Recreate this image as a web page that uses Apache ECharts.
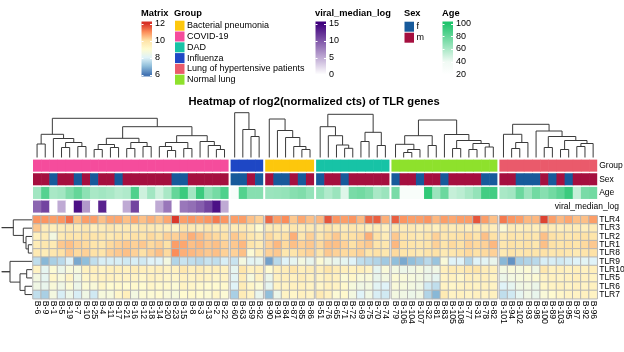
<!DOCTYPE html>
<html>
<head>
<meta charset="utf-8">
<script src="https://cdn.jsdelivr.net/npm/echarts/dist/echarts.min.js"></script>
<style>html,body{margin:0;padding:0;background:#fff}#chart{width:624px;height:352px}</style>
</head>
<body>
<div id="chart"></div>
<script>
var FONT = '"Liberation Sans", Arial, Helvetica, sans-serif';

// ---- shared data ----
var genes = ['TLR4', 'TLR3', 'TLR2', 'TLR1', 'TLR8', 'TLR9', 'TLR10', 'TLR5', 'TLR6', 'TLR7'];
var annNames = ['Group', 'Sex', 'Age', 'viral_median_log'];
var groupLegend = ['Bacterial pneumonia', 'COVID-19', 'DAD', 'Influenza', 'Lung of hypertensive patients', 'Normal lung'];
var groupColors = ['#fdc70c', '#f54c9c', '#17c3a6', '#1e47c5', '#ea5a6b', '#8ee12c'];
var sexLevels = ['f', 'm'];
var sexColors = ['#175a9b', '#a50f3f'];
var matrixTicks = [12, 10, 8, 6];
var viralTicks = [15, 10, 5, 0];
var ageTicks = [100, 80, 60, 40, 20];
var matrixColors = ['#4575b4', '#91bfdb', '#e0f3f8', '#fffbd0', '#fee2a6', '#fc8d59', '#d73027'];
var ageColors = ['#ffffff', '#f0faf4', '#a9e8c6', '#64d699', '#1fc46c'];
var viralColors = ['#ffffff', '#3f007d'];

// ---- COVID-19 ----
var covidSamples = ['B-6','B-9','B-1','B-5','B-19','B-7','B-10','B-25','B-4','B-11','B-17','B-21','B-16','B-12','B-18','B-14','B-20','B-23','B-15','B-8','B-3','B-13','B-2','B-22'];
var covidSex = ['m','m','f','m','m','f','m','f','m','m','f','m','m','m','m','m','m','f','f','m','m','m','m','m'];
var covidAge = [62,84,60,62,72,80,68,60,62,60,56,58,86,50,62,50,60,80,92,62,92,68,75,86];
var covidViral = [9,11,0,5,0,14,6,0,13,0,0,5,11,0,0,5,8,0,8,8.5,9.5,11,14,5];
var covidExpr = [
  [10.9,10.9,10.8,10.9,11.3,10.4,10.8,10.8,10.4,10.7,10.7,10.4,10.7,10.4,10.6,10.4,10.7,11.9,10.8,10.9,10.8,10.9,11.2,10.9],
  [10.3,9.6,9.5,9.6,9.7,9.6,9.8,9.5,9.6,9.8,9.6,9.7,9.6,9.8,9.7,9.6,9.5,9.2,9.9,9.7,9.6,9.8,9.6,9.7],
  [9.4,9.6,8.6,9.7,9.9,9.8,10.0,9.9,9.8,9.7,9.9,9.8,10.0,9.9,10.1,10.0,10.2,10.2,10.3,10.6,10.4,10.2,10.1,10.0],
  [9.6,9.8,9.7,10.3,10.4,10.2,10.1,9.9,9.8,10.1,10.2,10.3,10.2,10.3,10.1,10.2,10.0,10.8,10.7,10.4,10.5,10.3,10.4,10.2],
  [9.7,9.6,9.8,10.0,10.3,10.1,10.2,10.0,9.9,10.2,10.3,10.4,10.2,10.0,10.2,10.4,10.1,11.0,10.6,10.5,10.4,10.3,10.4,10.2],
  [7.6,6.9,7.3,7.5,8.0,6.7,7.0,7.6,7.9,7.9,7.9,7.8,7.9,7.8,8.0,8.0,8.6,7.4,7.7,7.6,7.5,7.7,7.6,7.9],
  [9.3,8.2,8.9,8.4,8.8,8.7,9.4,9.5,9.3,9.5,9.5,9.4,9.6,9.5,9.4,9.5,9.3,9.4,9.8,9.5,9.6,9.4,9.5,9.4],
  [8.6,8.2,9.2,8.8,9.3,8.5,9.2,9.3,9.4,9.4,9.3,9.3,9.3,9.2,9.4,9.3,9.2,9.2,9.4,9.3,9.4,9.3,9.2,9.3],
  [8.5,8.3,8.8,8.5,8.9,8.4,8.9,8.8,9.2,9.0,9.1,9.0,9.1,9.0,9.2,9.1,9.1,8.9,9.3,9.2,9.1,9.0,9.0,9.1],
  [7.6,7.3,8.6,7.9,8.4,7.9,8.5,7.8,8.7,8.7,9.2,9.5,8.6,8.9,8.9,9.0,8.8,8.7,9.0,9.1,9.0,8.9,9.2,8.9]
];
// tree: [left, right, height], leaves are column indices
var covidTree = [
  [[0, 1, 13.5], [2, [[3, 4, 10], [5, 6, 11], 15], 19], 23.2],
  [[[[7, 8, 8], [9, 10, 10], 13], [[11, 12, 9], [13, 14, 11], 15], 19.2],
   [[[15, [16, 17, 7], 11], [18, 19, 9], 15], [20, [21, [22, 23, 8], 12], 16], 21.8], 30.8],
  39.2];

// ---- Influenza ----
var fluSamples = ['B-60','B-63','B-59','B-62'];
var fluSex = ['f','f','m','f'];
var fluAge = [30,85,70,70];
var fluExpr = [
  [10.8,10.8,10.4,10.2],[9.6,9.7,9.5,9.0],[10.3,10.1,9.8,9.6],[10.3,10.5,9.9,9.7],[10.2,10.4,8.9,9.6],
  [7.7,8.6,8.1,8.2],[8.2,9.9,9.4,9.5],[8.1,9.6,8.7,9.4],[8.0,9.6,9.2,8.9],[7.3,9.6,9.3,8.3]
];
var fluTree = [0, [1, [2, 3, 21], 28], 44.8];

// ---- Bacterial pneumonia ----
var bactSamples = ['B-90','B-91','B-84','B-87','B-85','B-86'];
var bactSex = ['m','f','f','m','f','m'];
var bactAge = [64,65,66,70,72,66];
var bactExpr = [
  [11.4,10.8,11.0,10.3,10.7,10.4],[9.6,9.7,9.5,9.8,9.6,9.7],[10.1,9.8,10.0,10.6,9.8,10.2],
  [10.2,10.5,10.1,10.4,10.2,10.3],[10.2,10.3,9.8,9.9,10.1,10.2],[6.6,7.5,8.0,8.2,8.6,8.3],
  [9.0,9.5,9.6,9.9,9.5,9.6],[8.4,9.4,9.5,9.4,9.6,9.4],[8.2,9.3,9.3,9.4,9.4,9.3],[7.0,8.4,9.3,9.2,9.4,9.3]
];
var bactTree = [0, [1, [2, [3, [4, 5, 8], 11], 20], 27], 38.5];

// ---- DAD ----
var dadSamples = ['B-51','B-76','B-65','B-71','B-72','B-69','B-75','B-70','B-74'];
var dadSex = ['f','m','m','f','m','m','m','m','m'];
var dadAge = [66,58,64,45,74,76,72,60,64];
var dadExpr = [
  [10.5,11.6,10.9,10.8,10.9,10.5,11.4,11.5,10.6],
  [9.6,9.9,9.7,9.6,9.8,9.7,9.5,9.6,9.4],
  [9.8,10.1,10.3,9.9,10.0,10.1,10.6,10.0,9.6],
  [10.1,10.4,10.4,10.2,10.0,10.2,10.3,9.9,9.8],
  [9.9,10.3,10.2,10.1,10.1,10.2,9.9,10.0,9.8],
  [8.9,8.5,8.3,8.2,8.0,7.6,7.5,7.4,7.2],
  [9.5,9.9,9.6,9.5,9.4,9.5,9.3,8.2,8.8],
  [9.3,9.5,9.4,8.9,9.2,8.8,8.8,8.3,8.6],
  [9.2,9.4,9.3,9.1,8.7,8.5,8.6,8.1,8.0],
  [9.7,9.4,8.9,9.1,8.6,8.0,8.5,7.9,7.8]
];
var dadTree = [[0, [1, [2, [3, 4, 9.2], 12.5], 21.8], 30.8], [[5, 6, 16], [7, 8, 12], 25.2], 43.2];

// ---- Normal lung ----
var normSamples = ['B-79','B-106','B-104','B-107','B-32','B-81','B-83','B-105','B-108','B-77','B-31','B-78','B-82'];
var normSex = ['f','m','m','f','m','m','f','m','m','m','m','f','f'];
var normAge = [74,30,30,30,95,64,78,52,55,60,66,90,90];
var normExpr = [
  [11.5,10.9,10.8,10.8,10.9,10.5,10.8,10.7,10.8,10.8,11.6,10.8,10.4],
  [9.7,9.6,9.7,9.5,9.6,9.4,9.8,9.6,9.7,9.5,9.6,9.7,9.5],
  [10.3,9.9,9.8,9.7,9.9,10.2,9.8,9.9,10.0,10.1,9.9,10.4,10.0],
  [10.5,10.0,9.9,9.8,9.9,10.2,9.9,10.1,10.0,10.2,10.1,10.2,10.5],
  [10.1,9.9,9.8,9.7,9.9,10.0,9.7,9.8,10.0,10.1,10.0,10.1,10.2],
  [7.0,6.7,7.0,7.2,7.5,7.1,8.8,8.0,8.0,7.4,8.0,8.1,8.3],
  [8.6,8.4,8.5,8.7,8.4,8.5,9.5,9.7,9.6,9.8,9.9,9.6,9.5],
  [8.9,8.8,8.7,8.6,8.4,8.2,9.3,9.4,9.2,9.5,9.4,9.5,9.3],
  [8.8,8.7,8.6,8.5,7.8,7.6,9.3,9.2,9.3,9.4,9.3,9.4,9.3],
  [8.6,8.5,8.4,8.5,7.4,6.9,9.7,9.3,9.4,9.3,9.4,9.3,9.4]
];
var normTree = [[[0, [[1, 2, 5], 3, 8], 13.2], [4, 5, 12], 21.8],
  [6, [[7, 8, 9], [[9, 10, 8], [11, 12, 10.5], 14], 17], 23], 37.5];

// ---- Lung of hypertensive patients ----
var hypSamples = ['B-101','B-94','B-102','B-93','B-98','B-100','B-89','B-103','B-95','B-97','B-92','B-96'];
var hypSex = ['m','m','f','f','f','m','f','m','f','m','m','m'];
var hypAge = [60,62,78,64,76,70,76,82,92,52,74,76];
var hypExpr = [
  [11.2,10.9,10.8,10.5,10.5,11.8,10.8,10.5,10.7,10.4,10.4,10.8],
  [8.9,9.6,9.5,9.6,9.5,9.7,9.6,9.5,9.6,9.6,9.5,9.6],
  [9.7,9.9,9.8,9.9,9.8,10.4,10.0,9.9,9.8,9.9,10.0,9.9],
  [9.8,10.0,9.9,10.0,9.8,10.4,10.0,9.9,10.0,9.9,10.1,10.3],
  [9.7,9.9,9.8,9.9,9.9,10.0,9.8,9.9,9.8,9.7,9.9,10.0],
  [6.9,6.4,7.3,7.4,7.5,7.9,7.9,7.8,7.9,8.0,8.1,8.0],
  [8.6,8.8,8.7,8.9,8.5,9.8,9.4,9.5,9.4,9.5,9.4,9.5],
  [8.4,8.6,8.7,8.8,8.9,9.3,9.4,9.3,9.4,9.5,9.4,9.3],
  [8.0,8.2,8.5,8.6,8.4,9.2,9.3,9.4,9.3,9.4,9.3,9.4],
  [7.6,7.8,8.2,8.5,8.3,8.8,9.0,9.2,9.3,9.3,9.4,9.3]
];
var hypTree = [[0, [[1, 2, 9], 3, 15], 23.2], [4, [[5, 6, 10], [[7, 8, 8], [[9, 10, 11], 11, 14], 17], 21], 26.5], 33.2];

// ---- row dendrogram (gene indices) ----
var rowTrees = [
  [0, [1, [2, [3, 4, 3.7], 6], 8.7], 18.7],
  [5, [[6, 7, 5.3], [8, 9, 7], 12], 22]
];

var slices = [
  {group: 'COVID-19', samples: covidSamples, sex: covidSex, age: covidAge, viral: covidViral, expr: covidExpr, tree: covidTree},
  {group: 'Influenza', samples: fluSamples, sex: fluSex, age: fluAge, viral: null, expr: fluExpr, tree: fluTree},
  {group: 'Bacterial pneumonia', samples: bactSamples, sex: bactSex, age: bactAge, viral: null, expr: bactExpr, tree: bactTree},
  {group: 'DAD', samples: dadSamples, sex: dadSex, age: dadAge, viral: null, expr: dadExpr, tree: dadTree},
  {group: 'Normal lung', samples: normSamples, sex: normSex, age: normAge, viral: null, expr: normExpr, tree: normTree},
  {group: 'Lung of hypertensive patients', samples: hypSamples, sex: hypSex, age: hypAge, viral: null, expr: hypExpr, tree: hypTree}
];

// ---- layout ----
var cellW = 8.15, sliceGap = 2, heatLeft = 33;
var heatTop = 215.7, heatH = 83;
var annTop = 158.8, annH = 54.6;
var dendTop = 112.5, dendH = 45;
var rowDendLeft = 1.7, rowDendW = 30.3;

// walk a nested tree, collecting [xa, xb, h, ha, hb] segments
function walkTree(node, segs) {
  if (typeof node === 'number') return {x: node, h: 0};
  var a = walkTree(node[0], segs), b = walkTree(node[1], segs);
  segs.push([a.x, b.x, node[2], a.h, b.h]);
  return {x: (a.x + b.x) / 2, h: node[2]};
}

var DEND_STYLE = {stroke: '#3a3a3a', lineWidth: 1, fill: null};

function colDendro(params, api) {
  var p = [
    api.coord([api.value(0), api.value(3)]),
    api.coord([api.value(0), api.value(2)]),
    api.coord([api.value(1), api.value(2)]),
    api.coord([api.value(1), api.value(4)])
  ];
  return {type: 'polyline', shape: {points: p}, style: DEND_STYLE};
}
function rowDendro(params, api) {
  var p = [
    api.coord([api.value(3), api.value(0)]),
    api.coord([api.value(2), api.value(0)]),
    api.coord([api.value(2), api.value(1)]),
    api.coord([api.value(4), api.value(1)])
  ];
  return {type: 'polyline', shape: {points: p}, style: DEND_STYLE};
}
function annRect(n, fillOf) {
  return function (params, api) {
    var c = api.coord([api.value(0), api.value(1)]);
    var s = api.size([1, 1]);
    var extra = api.value(0) < n - 1 ? 0.6 : 0;
    return {
      type: 'rect',
      shape: {x: c[0] - s[0] / 2, y: c[1] - s[1] / 2 + 0.8, width: s[0] + extra, height: s[1] - 1.6},
      style: {fill: fillOf(params, api)}
    };
  };
}

var grids = [], xAxes = [], yAxes = [], series = [];
var heatIdx = [], ageIdx = [], viralIdx = [];
var left = heatLeft;

slices.forEach(function (s, k) {
  var n = s.samples.length, w = n * cellW;
  var last = k === slices.length - 1;

  // column dendrogram
  var g = grids.length;
  grids.push({left: left, top: dendTop, width: w, height: dendH, outerBoundsMode: 'none'});
  xAxes.push({type: 'value', gridIndex: g, min: -0.5, max: n - 0.5, show: false});
  yAxes.push({type: 'value', gridIndex: g, min: 0, max: dendH, show: false});
  var segs = [];
  walkTree(s.tree, segs);
  series.push({type: 'custom', xAxisIndex: g, yAxisIndex: g, data: segs, renderItem: colDendro, silent: true});

  // annotation tracks
  g = grids.length;
  grids.push({left: left, top: annTop, width: w, height: annH, outerBoundsMode: 'none'});
  xAxes.push({type: 'category', gridIndex: g, data: s.samples, show: false});
  yAxes.push({
    type: 'category', gridIndex: g, data: annNames, inverse: true, position: 'right',
    axisLine: {show: false}, axisTick: {show: false},
    axisLabel: {show: last, interval: 0, margin: 2, fontSize: 8.5, color: '#000', fontFamily: FONT,
      formatter: function (v) { return v === 'viral_median_log' ? '' : v; }}
  });
  var gcol = groupColors[groupLegend.indexOf(s.group)];
  series.push({type: 'custom', xAxisIndex: g, yAxisIndex: g, silent: true,
    data: s.samples.map(function (_, i) { return [i, 0]; }),
    renderItem: annRect(n, function () { return gcol; })});
  var sexFill = s.sex.map(function (v) { return sexColors[sexLevels.indexOf(v)]; });
  series.push({type: 'custom', xAxisIndex: g, yAxisIndex: g, silent: true,
    data: s.sex.map(function (_, i) { return [i, 1]; }),
    renderItem: annRect(n, function (p) { return sexFill[p.dataIndex]; })});
  ageIdx.push(series.length);
  series.push({type: 'custom', xAxisIndex: g, yAxisIndex: g, silent: true,
    data: s.age.map(function (v, i) { return [i, 2, v]; }),
    renderItem: annRect(n, function (p, api) { return api.visual('color'); })});
  if (s.viral) {
    viralIdx.push(series.length);
    series.push({type: 'custom', xAxisIndex: g, yAxisIndex: g, silent: true,
      data: s.viral.map(function (v, i) { return [i, 3, v]; }),
      renderItem: annRect(n, function (p, api) { return api.visual('color'); })});
  }

  // heatmap body
  g = grids.length;
  grids.push({left: left, top: heatTop, width: w, height: heatH, outerBoundsMode: 'none'});
  xAxes.push({
    type: 'category', gridIndex: g, data: s.samples,
    axisLine: {show: false}, axisTick: {show: false},
    axisLabel: {interval: 0, rotate: -90, margin: 2, fontSize: 8.7, color: '#000', fontFamily: FONT}
  });
  yAxes.push({
    type: 'category', gridIndex: g, data: genes, inverse: true, position: 'right',
    axisLine: {show: false}, axisTick: {show: false},
    axisLabel: {show: last, interval: 0, margin: 2, fontSize: 8.5, color: '#000', fontFamily: FONT}
  });
  var cells = [];
  s.expr.forEach(function (row, r) {
    row.forEach(function (v, i) { cells.push([i, r, v]); });
  });
  heatIdx.push(series.length);
  series.push({type: 'heatmap', xAxisIndex: g, yAxisIndex: g, data: cells, silent: true,
    itemStyle: {borderColor: '#b5b5b5', borderWidth: 1}});

  left += w + sliceGap;
});

// row dendrogram
(function () {
  var g = grids.length;
  grids.push({left: rowDendLeft, top: heatTop, width: rowDendW, height: heatH, outerBoundsMode: 'none'});
  xAxes.push({type: 'value', gridIndex: g, min: 0, max: rowDendW, inverse: true, show: false});
  yAxes.push({type: 'value', gridIndex: g, min: -0.5, max: genes.length - 0.5, inverse: true, show: false});
  var segs = [];
  rowTrees.forEach(function (t) {
    var root = walkTree(t, segs);
    segs.push([root.x, root.x, rowDendW, root.h, root.h]);
  });
  series.push({type: 'custom', xAxisIndex: g, yAxisIndex: g, data: segs, renderItem: rowDendro, silent: true});
})();

// ---- legends (graphic) ----
var graphics = [];
function txt(x, y, s, font, align) {
  graphics.push({type: 'text', x: x, y: y, silent: true,
    style: {text: s, font: font, fill: '#000', align: align || 'left', verticalAlign: 'middle',
      textAlign: align || 'left', textVerticalAlign: 'middle'}});
}
var TITLE_FONT = 'bold 9.3px ' + FONT, LAB_FONT = '9px ' + FONT;
var barTop = 21.5, barBot = 76.5, tTop = 23.5, tBot = 74.5, barW = 10.5;

function colorbar(x, title, ticks, colors, vmin, vmax) {
  txt(x, 13.3, title, TITLE_FONT);
  var yOf = function (v) { return tTop + (vmax - v) / (vmax - vmin) * (tBot - tTop); };
  var stops = [];
  for (var j = colors.length - 1; j >= 0; j--) {
    var v = vmin + j * (vmax - vmin) / (colors.length - 1);
    stops.push({offset: (yOf(v) - barTop) / (barBot - barTop), color: colors[j]});
  }
  graphics.push({type: 'rect', silent: true, shape: {x: x + 0.5, y: barTop, width: barW, height: barBot - barTop},
    style: {fill: new echarts.graphic.LinearGradient(0, 0, 0, 1, stops)}});
  ticks.forEach(function (t) {
    var y = Math.round(yOf(t)) + 0.5;
    graphics.push({type: 'line', silent: true, shape: {x1: x + 0.5, y1: y, x2: x + 2.5, y2: y}, style: {stroke: '#fff', lineWidth: 1}});
    graphics.push({type: 'line', silent: true, shape: {x1: x + barW - 1.5, y1: y, x2: x + barW + 0.5, y2: y}, style: {stroke: '#fff', lineWidth: 1}});
    txt(x + barW + 3.5, yOf(t), String(t), LAB_FONT);
  });
}
colorbar(141, 'Matrix', matrixTicks, matrixColors, 6, 12);
colorbar(315, 'viral_median_log', viralTicks, viralColors, 0, 15);
colorbar(442, 'Age', ageTicks, ageColors, 20, 100);

txt(174, 13.3, 'Group', TITLE_FONT);
groupLegend.forEach(function (name, i) {
  var c = 25.7 + 10.8 * i;
  graphics.push({type: 'rect', silent: true, shape: {x: 175, y: c - 5, width: 9.5, height: 10}, style: {fill: groupColors[i]}});
  txt(187, c, name, LAB_FONT);
});
txt(404, 13.3, 'Sex', TITLE_FONT);
sexLevels.forEach(function (name, i) {
  var c = 26.7 + 11 * i;
  graphics.push({type: 'rect', silent: true, shape: {x: 404.5, y: c - 5, width: 9.5, height: 10}, style: {fill: sexColors[i]}});
  txt(416.5, c, name, LAB_FONT);
});
txt(619, 206.6, 'viral_median_log', '8.5px ' + FONT, 'right');

var chart = echarts.init(document.getElementById('chart'));
chart.setOption({
  animation: false,
  backgroundColor: '#fff',
  textStyle: {fontFamily: FONT},
  title: {
    text: 'Heatmap of rlog2(normalized cts) of TLR genes', left: 188.5, top: 96, padding: 0,
    textStyle: {fontSize: 11.2, fontWeight: 'bold', color: '#000', fontFamily: FONT}
  },
  grid: grids,
  xAxis: xAxes,
  yAxis: yAxes,
  visualMap: [
    {type: 'continuous', show: false, min: 6, max: 12, dimension: 2, seriesIndex: heatIdx, inRange: {color: matrixColors}},
    {type: 'continuous', show: false, min: 20, max: 100, dimension: 2, seriesIndex: ageIdx, inRange: {color: ageColors}},
    {type: 'continuous', show: false, min: 0, max: 15, dimension: 2, seriesIndex: viralIdx, inRange: {color: viralColors}}
  ],
  graphic: graphics,
  series: series
});
</script>
</body>
</html>
